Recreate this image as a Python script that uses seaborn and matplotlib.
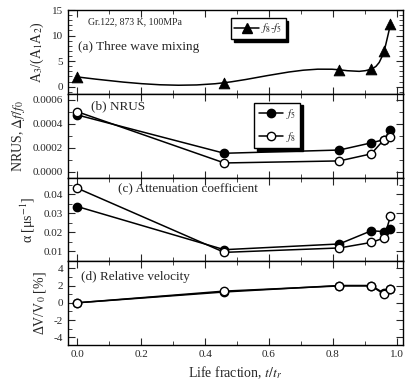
import numpy as np
import pandas as pd
import seaborn as sns
import matplotlib.pyplot as plt
from matplotlib.path import Path
from matplotlib.patches import PathPatch
from matplotlib.lines import Line2D
from matplotlib.ticker import MultipleLocator

# life fraction t/tr
life = [0.0, 0.46, 0.82, 0.92, 0.96, 0.98]

# (a) three wave mixing A3/(A1A2)
twm = [1.9, 0.77, 3.3, 3.45, 7.0, 12.2]
# (b) NRUS
nrus_f5 = [0.000473, 0.000153, 0.000180, 0.000240, 0.000267, 0.000350]
nrus_f8 = [0.000500, 0.000072, 0.000089, 0.000148, 0.000267, 0.000290]
# (c) attenuation
att_f5 = [0.0335, 0.0109, 0.0139, 0.0208, 0.0204, 0.0217]
att_f8 = [0.0431, 0.0095, 0.0118, 0.0147, 0.0170, 0.0283]
# (d) relative velocity
vel_f5 = [0.0, 1.25, 2.0, 2.0, 1.1, 1.6]
vel_f8 = [0.0, 1.35, 1.95, 1.95, 1.0, 1.57]

sns.set_style("ticks")
plt.rcParams['font.family'] = ['Liberation Serif', 'DejaVu Serif']
plt.rcParams['mathtext.fontset'] = 'stix'
plt.rcParams['font.size'] = 8


def spline_path(x, y):
    # natural cubic spline drawn as bezier segments (line style only)
    x = np.asarray(x, float)
    y = np.asarray(y, float)
    n = len(x)
    h = np.diff(x)
    A = np.zeros((n, n))
    b = np.zeros(n)
    A[0, 0] = A[-1, -1] = 1
    for i in range(1, n - 1):
        A[i, i - 1] = h[i - 1]
        A[i, i] = 2 * (h[i - 1] + h[i])
        A[i, i + 1] = h[i]
        b[i] = 6 * ((y[i + 1] - y[i]) / h[i] - (y[i] - y[i - 1]) / h[i - 1])
    M = np.linalg.solve(A, b)
    verts = [(x[0], y[0])]
    codes = [Path.MOVETO]
    for i in range(n - 1):
        s = (y[i + 1] - y[i]) / h[i]
        d0 = s - h[i] * (2 * M[i] + M[i + 1]) / 6
        d1 = s + h[i] * (M[i] + 2 * M[i + 1]) / 6
        verts += [(x[i] + h[i] / 3, y[i] + h[i] / 3 * d0),
                  (x[i + 1] - h[i] / 3, y[i + 1] - h[i] / 3 * d1),
                  (x[i + 1], y[i + 1])]
        codes += [Path.CURVE4] * 3
    return Path(verts, codes)


fig, axes = plt.subplots(4, 1, figsize=(4.06, 3.86), dpi=100, sharex=True)
fig.subplots_adjust(left=0.167, right=0.993, top=0.974, bottom=0.106, hspace=0)

lw = 1.1
ms = 6
shadow = {'color': 'black', 'alpha': 1}

# (a)
ax = axes[0]
ax.add_patch(PathPatch(spline_path(life, twm), fill=False, lw=lw, color='black'))
sns.scatterplot(x=life, y=twm, ax=ax, marker='^', color='black', s=60, edgecolor='black', zorder=3)
ax.set_ylim(-1.4, 15)
ax.yaxis.set_major_locator(MultipleLocator(5))
ax.yaxis.set_minor_locator(MultipleLocator(1))
ax.set_ylabel('A$_3$/(A$_1$A$_2$)', fontsize=10)
ax.text(0.06, 0.83, 'Gr.122, 873 K, 100MPa', transform=ax.transAxes, fontsize=7)
ax.text(0.03, 0.52, '(a) Three wave mixing', transform=ax.transAxes, fontsize=9.5)
h_a = Line2D([], [], color='black', lw=lw, marker='^', ms=7)
ax.legend([h_a], ['$f_8$-$f_5$'], loc='upper left', bbox_to_anchor=(0.47, 0.97),
          frameon=True, fancybox=False, shadow=shadow, edgecolor='black',
          handlelength=2.2, handletextpad=0.2, borderpad=0.3, fontsize=8)

# (b), (c), (d)
panels = [
    (axes[1], nrus_f5, nrus_f8, (-0.00005, 0.00065), 0.0002, 0.0001,
     'NRUS, $\\Delta f/f_0$', '(b) NRUS', (0.07, 0.82)),
    (axes[2], att_f5, att_f8, (0.0048, 0.0487), 0.01, 0.005,
     '\u03b1 [\u03bcs$^{-1}$]', '(c) Attenuation coefficient', (0.15, 0.82)),
    (axes[3], vel_f5, vel_f8, (-4.9, 4.8), 2, 1,
     '\u0394V/V$_0$ [%]', '(d) Relative velocity', (0.04, 0.78)),
]
for ax, s5, s8, ylim, major, minor, ylab, title, tpos in panels:
    sns.lineplot(x=life, y=s5, ax=ax, color='black', lw=lw, marker='o', ms=ms,
                 mfc='black', mec='black', mew=1)
    sns.lineplot(x=life, y=s8, ax=ax, color='black', lw=lw, marker='o', ms=ms,
                 mfc='white', mec='black', mew=1)
    ax.set_ylim(*ylim)
    ax.yaxis.set_major_locator(MultipleLocator(major))
    ax.yaxis.set_minor_locator(MultipleLocator(minor))
    ax.set_ylabel(ylab, fontsize=10)
    ax.text(tpos[0], tpos[1], title, transform=ax.transAxes, fontsize=9.5)

axes[1].yaxis.set_major_formatter(plt.FormatStrFormatter('%.4f'))
axes[2].yaxis.set_major_formatter(plt.FormatStrFormatter('%.2f'))
axes[2].set_yticks([0.01, 0.02, 0.03, 0.04])
axes[3].yaxis.set_major_formatter(plt.FormatStrFormatter('%d'))

h5 = Line2D([], [], color='black', lw=lw, marker='o', ms=ms, mfc='black', mec='black')
h8 = Line2D([], [], color='black', lw=lw, marker='o', ms=ms, mfc='white', mec='black')
axes[1].legend([h5, h8], ['$f_5$', '$f_8$'], loc='upper left', bbox_to_anchor=(0.54, 0.96),
               frameon=True, fancybox=False, shadow=shadow, edgecolor='black',
               handlelength=2.2, handletextpad=0.2, borderpad=0.4, labelspacing=0.8,
               fontsize=8)

for ax in axes:
    ax.set_xlim(-0.03, 1.02)
    ax.xaxis.set_major_locator(MultipleLocator(0.2))
    ax.xaxis.set_minor_locator(MultipleLocator(0.1))
    ax.tick_params(which='both', direction='in', top=True, right=True, labelsize=8)
    ax.tick_params(which='major', length=5)
    ax.tick_params(which='minor', length=3)
    for sp in ax.spines.values():
        sp.set_linewidth(1)
        sp.set_color('black')

axes[3].xaxis.set_major_formatter(plt.FormatStrFormatter('%.1f'))
axes[3].set_xlabel('Life fraction, $t/t_r$', fontsize=10)

fig.savefig('out.png', dpi=100)
